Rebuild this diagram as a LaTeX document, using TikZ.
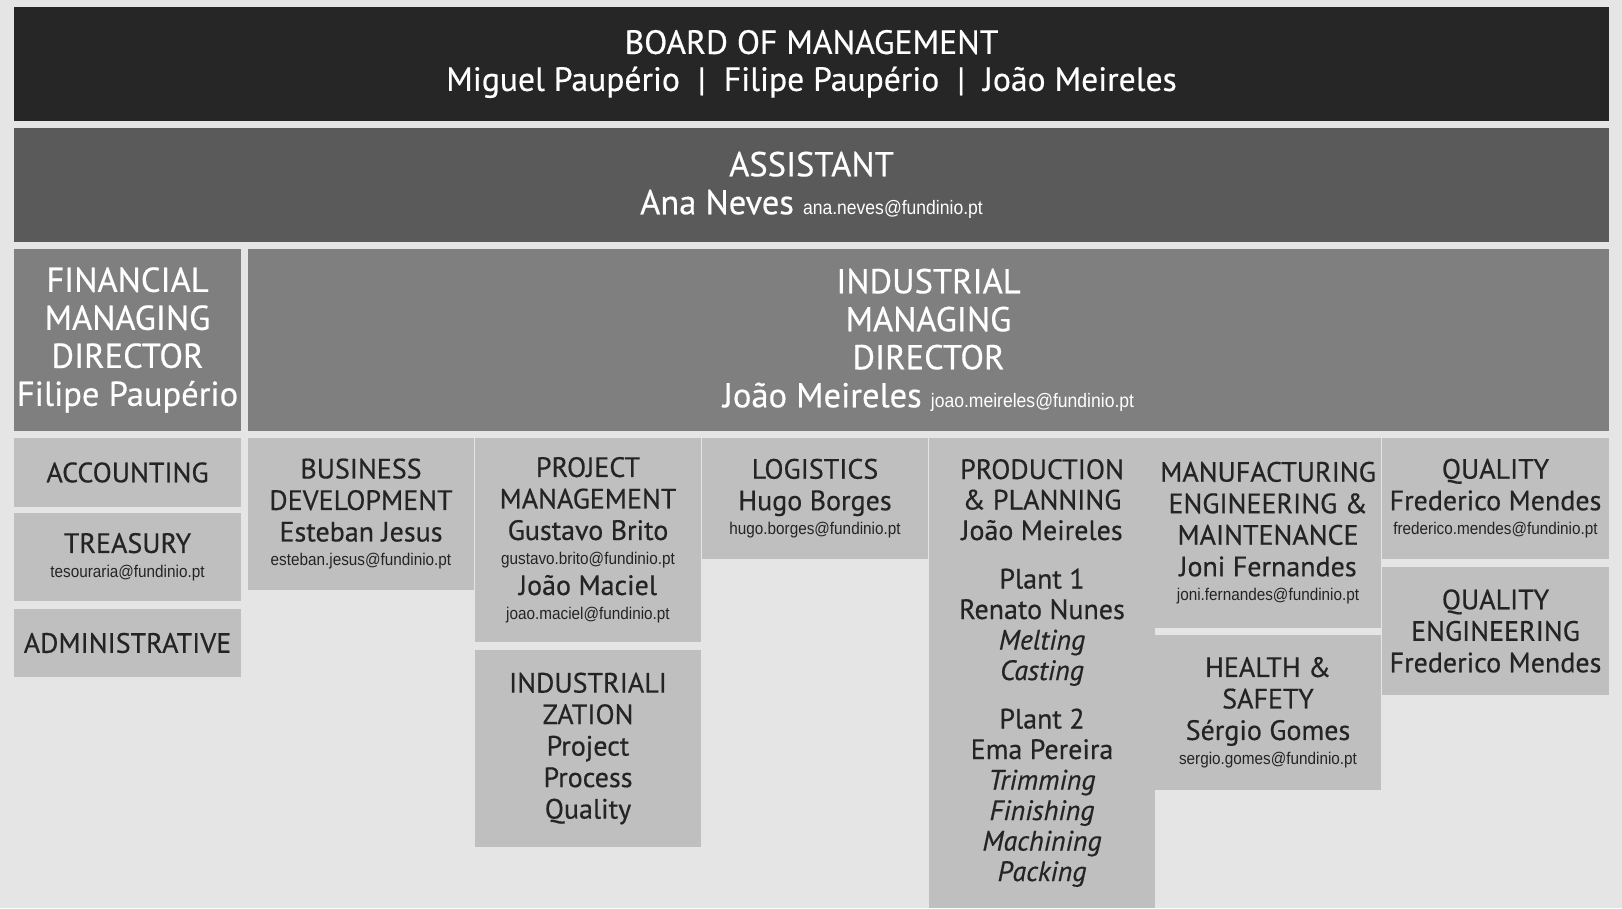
\documentclass[tikz,border=0pt]{standalone}
\usepackage{fontspec}
\setmainfont{PT Sans}[FakeBold=0.5]
\newfontfamily\mailfont[FakeStretch=0.9]{Liberation Sans}
\usepackage{tikz}
\usetikzlibrary{positioning}
\definecolor{bggray}{HTML}{E5E5E5}
\definecolor{boardgray}{HTML}{262626}
\definecolor{assistgray}{HTML}{5A5A5A}
\definecolor{dirgray}{HTML}{7F7F7F}
\definecolor{deptgray}{HTML}{BFBFBF}
\definecolor{depttext}{HTML}{242424}
\tikzstyle{box}=[rectangle,inner sep=0pt,outer sep=0pt,align=center]
\tikzstyle{head}=[box,text=white,font=\fontsize{34.5}{38}\selectfont]
\tikzstyle{dept}=[box,fill=deptgray,text=depttext,minimum width=226pt,font=\fontsize{28}{31.5}\selectfont]
\newcommand{\email}[1]{{\mailfont\fontsize{17}{20}\selectfont #1}}
\newcommand{\bigemail}[1]{{\mailfont\fontsize{19.5}{22}\selectfont #1}}

\begin{document}
\begin{tikzpicture}
\fill[bggray] (0,0) rectangle (1622pt,908pt);
\useasboundingbox (0,0) rectangle (1622pt,908pt);

% board, assistant and the two directors
\node [head,fill=boardgray,anchor=north west,minimum width=1595pt,minimum height=114pt,
       font=\fontsize{33.6}{37}\selectfont] (board) at (14pt,901pt)
  {BOARD OF MANAGEMENT\\Miguel Paupério \ | \ Filipe Paupério \ | \ João Meireles};
\node [head,fill=assistgray,minimum width=1595pt,minimum height=114pt,below=7pt of board] (assist)
  {ASSISTANT\\Ana Neves \bigemail{ana.neves@fundinio.pt}};
\node [head,fill=dirgray,minimum width=227pt,minimum height=182pt,below=7pt of assist.south west,anchor=north west] (fin)
  {FINANCIAL\\MANAGING\\DIRECTOR\\Filipe Paupério};
\node [head,fill=dirgray,minimum width=1361pt,minimum height=182pt,right=7pt of fin] (ind)
  {INDUSTRIAL\\MANAGING\\DIRECTOR\\João Meireles \bigemail{joao.meireles@fundinio.pt}};

% financial side
\node [dept,minimum width=227pt,minimum height=69pt,below=7pt of fin] (acc) {ACCOUNTING};
\node [dept,minimum width=227pt,minimum height=88pt,below=6pt of acc] (treas)
  {TREASURY\\[-7pt]\email{tesouraria@fundinio.pt}};
\node [dept,minimum width=227pt,minimum height=68pt,below=8pt of treas] (admin) {ADMINISTRATIVE};

% industrial side
\node [dept,minimum height=152pt,below=7pt of ind.south west,anchor=north west] (busdev)
  {BUSINESS\\DEVELOPMENT\\Esteban Jesus\\[-7pt]\email{esteban.jesus@fundinio.pt}};
\node [dept,minimum height=204pt,right=1pt of busdev.north east,anchor=north west] (project)
  {PROJECT\\MANAGEMENT\\Gustavo Brito\\[-7pt]\email{gustavo.brito@fundinio.pt}\\[-1pt]
   João Maciel\\[-7pt]\email{joao.maciel@fundinio.pt}};
\node [dept,minimum height=197pt,below=8pt of project] (indus)
  {INDUSTRIALI\\ZATION\\Project\\Process\\Quality};
\node [dept,minimum height=121pt,right=1pt of project.north east,anchor=north west] (logist)
  {LOGISTICS\\Hugo Borges\\[-7pt]\email{hugo.borges@fundinio.pt}};
\node [dept,minimum height=470pt,right=1pt of logist.north east,anchor=north west,
       font=\fontsize{28}{30.5}\selectfont] (prod)
  {PRODUCTION\\\& PLANNING\\João Meireles\\[18pt]
   Plant 1\\Renato Nunes\\\textit{Melting}\\\textit{Casting}\\[18pt]
   Plant 2\\Ema Pereira\\\textit{Trimming}\\\textit{Finishing}\\\textit{Machining}\\\textit{Packing}};
\node [dept,minimum height=190pt,right=0pt of prod.north east,anchor=north west] (manuf)
  {MANUFACTURING\\ENGINEERING \&\\MAINTENANCE\\Joni Fernandes\\[-7pt]\email{joni.fernandes@fundinio.pt}};
\node [dept,minimum height=155pt,below=7pt of manuf] (health)
  {HEALTH \&\\SAFETY\\Sérgio Gomes\\[-7pt]\email{sergio.gomes@fundinio.pt}};
\node [dept,minimum width=227pt,minimum height=121pt,right=1pt of manuf.north east,anchor=north west] (quality)
  {QUALITY\\Frederico Mendes\\[-7pt]\email{frederico.mendes@fundinio.pt}};
\node [dept,minimum width=227pt,minimum height=128pt,below=8pt of quality] (qualeng)
  {QUALITY\\ENGINEERING\\Frederico Mendes};
\end{tikzpicture}
\end{document}
